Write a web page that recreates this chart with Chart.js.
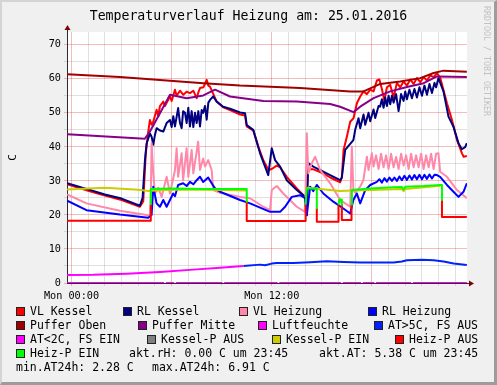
<!DOCTYPE html>
<html>
<head>
<meta charset="utf-8">
<title>Temperaturverlauf Heizung</title>
<script src="https://cdn.jsdelivr.net/npm/chart.js@4.4.1/dist/chart.umd.min.js"></script>
<style>
  html, body { margin: 0; padding: 0; background: #f0f0f0; }
  #wrap { position: relative; width: 497px; height: 385px; overflow: hidden;
          font-family: 'DejaVu Sans Mono', monospace; color: #000; }
  #chart { position: absolute; left: 0; top: 0; }
  #frame { position: absolute; left: 0; top: 0; width: 497px; height: 385px; box-sizing: border-box;
           border-top: 2px solid #d4d4d4; border-left: 2px solid #d4d4d4;
           border-right: 3px solid #9c9c9c; border-bottom: 3px solid #9c9c9c; pointer-events: none; }
  .title { position: absolute; left: 0; top: 8px; width: 497px; text-align: center;
           font-size: 13.2px; line-height: 16px; white-space: pre; }
  .mark { position: absolute; left: 482px; top: 6px; writing-mode: vertical-rl;
          font-size: 8.3px; line-height: 10px; color: #c2c2c2; white-space: pre; }
  .item { position: absolute; font-size: 11.5px; line-height: 14px; white-space: pre; }
  .sw { position: absolute; width: 9px; height: 9px; box-sizing: border-box; border: 1px solid #222; }
</style>
</head>
<body>
<div id="wrap">
  <canvas id="chart" width="497" height="385"></canvas>
  <div class="title">Temperaturverlauf Heizung am: 25.01.2016</div>
  <div class="mark">RRDTOOL / TOBI OETIKER</div>

  <div class="sw" style="left:16px;top:307px;background:#ff0000"></div><div class="item" style="left:30px;top:304px">VL Kessel</div>
  <div class="sw" style="left:123px;top:307px;background:#000080"></div><div class="item" style="left:137px;top:304px">RL Kessel</div>
  <div class="sw" style="left:239px;top:307px;background:#ff88aa"></div><div class="item" style="left:253px;top:304px">VL Heizung</div>
  <div class="sw" style="left:368px;top:307px;background:#0000ff"></div><div class="item" style="left:382px;top:304px">RL Heizung</div>

  <div class="sw" style="left:16px;top:321px;background:#a00000"></div><div class="item" style="left:30px;top:318px">Puffer Oben</div>
  <div class="sw" style="left:138px;top:321px;background:#880088"></div><div class="item" style="left:152px;top:318px">Puffer Mitte</div>
  <div class="sw" style="left:258px;top:321px;background:#ff00ff"></div><div class="item" style="left:272px;top:318px">Luftfeuchte</div>
  <div class="sw" style="left:374px;top:321px;background:#0022ff"></div><div class="item" style="left:388px;top:318px">AT&gt;5C, FS AUS</div>

  <div class="sw" style="left:16px;top:335px;background:#ff00ff"></div><div class="item" style="left:30px;top:332px">AT&lt;2C, FS EIN</div>
  <div class="sw" style="left:147px;top:335px;background:#808080"></div><div class="item" style="left:161px;top:332px">Kessel-P AUS</div>
  <div class="sw" style="left:272px;top:335px;background:#cccc00"></div><div class="item" style="left:286px;top:332px">Kessel-P EIN</div>
  <div class="sw" style="left:395px;top:335px;background:#ff0000"></div><div class="item" style="left:409px;top:332px">Heiz-P AUS</div>

  <div class="sw" style="left:16px;top:349px;background:#00ff00"></div><div class="item" style="left:30px;top:346px">Heiz-P EIN</div>
  <div class="item" style="left:129px;top:346px">akt.rH: 0.00 C um 23:45</div>
  <div class="item" style="left:319px;top:346px">akt.AT: 5.38 C um 23:45</div>

  <div class="item" style="left:16px;top:360px">min.AT24h: 2.28 C</div>
  <div class="item" style="left:152px;top:360px">max.AT24h: 6.91 C</div>

  <div id="frame"></div>
</div>
<script>
// values, as [hour of day, value]
const vlKessel = [[-0.26,29.0],[1,27.1],[2,25.7],[3,24.4],[4.1,22.4],[4.3,24],[4.45,38],[4.6,44.5],[4.7,47.9],[4.8,46.5],[4.9,47.4],[5.1,50.9],[5.2,49],[5.3,52],[5.5,53.3],[5.6,52],[5.9,54.8],[6.0,53.5],[6.2,56.8],[6.3,55],[6.5,56.5],[6.7,55.3],[6.9,56.2],[7.1,55.8],[7.3,56.5],[7.5,54.3],[7.6,56],[7.7,57.3],[7.9,57.5],[8.1,59.7],[8.2,58],[8.3,57.7],[8.5,55.5],[8.7,53.3],[9.1,51.6],[9.5,50.8],[10.1,49.5],[10.4,49.2],[10.5,46],[10.9,44.8],[11.2,40],[11.5,36],[11.8,33.2],[12.0,33.5],[12.3,34.5],[12.5,34],[12.9,31.2],[13.5,27.8],[13.9,25.8],[14.05,24.8],[14.15,33.5],[14.5,33.4],[15.0,32.4],[15.5,31.0],[16.1,29.6],[16.2,31],[16.3,39],[16.5,43],[16.7,47.4],[16.9,48.4],[17.1,52.8],[17.3,54.8],[17.5,56.3],[17.7,55.5],[17.9,56.8],[18.1,56.3],[18.3,59.5],[18.45,59.8],[18.6,57],[18.75,53.5],[18.9,57.5],[19.1,58.2],[19.3,54.5],[19.5,58.8],[19.7,57.5],[19.9,59.2],[20.1,58],[20.3,59.8],[20.5,58.5],[20.7,60.2],[20.9,59],[21.1,60.5],[21.3,59.5],[21.5,61],[21.7,60.5],[21.9,61.7],[22.1,60.2],[22.5,52.8],[22.8,47.9],[23.1,42],[23.4,38.1],[23.5,37.1],[23.69,37.3]];

const rlKessel = [[-0.26,29.3],[1,27.5],[2,26.0],[3,24.8],[4.1,22.7],[4.26,25],[4.4,36],[4.5,41],[4.6,42.5],[4.7,43.9],[4.8,43],[4.9,40.6],[5.0,43.5],[5.1,45.5],[5.3,44.8],[5.5,44.5],[5.7,47],[5.9,47.9],[6.0,45.8],[6.1,49],[6.2,46],[6.39,51.4],[6.5,47],[6.6,45.5],[6.69,50.5],[6.8,50],[6.9,47],[7.0,51.5],[7.1,46],[7.2,50.5],[7.3,45.8],[7.4,50],[7.5,47],[7.6,50.5],[7.7,46],[7.8,50.8],[7.89,50],[8.0,52],[8.1,48],[8.2,53],[8.3,53.8],[8.49,54.8],[8.7,53.3],[9.09,51.8],[9.5,51.2],[10.1,50.1],[10.4,49.9],[10.5,46.4],[10.89,45.0],[11.3,38.1],[11.79,31.7],[12.0,39.6],[12.2,36.1],[12.5,34.2],[12.9,30.2],[13.5,27.3],[14.0,25.3],[14.1,19.9],[14.19,35.2],[14.49,34.2],[15.5,31.7],[16.1,30.2],[16.2,31],[16.4,39.1],[16.89,42.0],[17.0,45],[17.2,48.4],[17.3,45.5],[17.5,49.5],[17.6,46.5],[17.8,50],[17.9,47.5],[18.1,51],[18.2,48.5],[18.4,52],[18.49,51.8],[18.6,54],[18.7,51.5],[18.8,54.5],[18.9,52],[19.0,55],[19.1,52.5],[19.2,55],[19.3,53],[19.45,55.5],[19.6,50.5],[19.75,55.5],[19.9,53.5],[20.0,56.3],[20.1,54],[20.25,56.8],[20.4,54.3],[20.55,57],[20.7,54.5],[20.85,57.5],[21.0,55],[21.15,58],[21.3,55.3],[21.45,58.5],[21.6,55.8],[21.75,58.8],[21.85,57.5],[21.99,60.2],[22.29,56.3],[22.59,48.9],[22.89,45.9],[23.19,41.1],[23.39,39.3],[23.59,39.9],[23.69,41.1]];

const vlHeizung = [[-0.26,26.0],[0.9,23.4],[2.9,21.2],[4.5,20.0],[4.7,19.8],[4.75,25],[4.8,41.1],[4.9,32.2],[5.0,26.3],[5.2,28],[5.4,25.3],[5.7,31.2],[5.9,26.3],[6.2,33.2],[6.3,39.6],[6.39,31.2],[6.6,38.1],[6.69,30.2],[6.9,39.6],[7.0,31.2],[7.2,39.1],[7.3,32.2],[7.59,41.5],[7.7,33.2],[7.89,36.6],[8.0,34.2],[8.19,36.1],[8.4,33.2],[8.49,27.3],[8.9,26.5],[10.1,25.3],[10.7,24.9],[11.49,22.4],[11.9,21.4],[12.0,27.3],[12.3,28.5],[12.69,26.3],[13.5,22.4],[14.0,20.9],[14.1,44.0],[14.19,32.2],[14.4,35.2],[14.6,37.1],[14.9,33.2],[15.5,29.3],[16.1,24.4],[16.4,23.4],[16.7,22.4],[16.8,40.1],[16.89,27.3],[17.0,26.5],[17.3,28.3],[17.49,30.2],[17.7,37.1],[17.8,33.2],[18.0,38.1],[18.1,34.2],[18.25,37.5],[18.4,33.5],[18.55,38],[18.7,34],[18.85,37.5],[19.0,33.5],[19.15,38],[19.3,34],[19.45,37],[19.6,33.5],[19.75,38],[19.9,34.5],[20.05,37.5],[20.2,33.5],[20.35,38],[20.5,34],[20.65,37.5],[20.8,34],[20.95,38],[21.1,33.5],[21.25,37.5],[21.4,34],[21.55,38],[21.7,33.5],[21.85,38],[21.99,38.1],[22.09,32.7],[22.5,31.2],[23.1,27.3],[23.69,24.9]];

const rlHeizung = [[-0.26,24.2],[0.9,21.4],[2.9,20.1],[4.6,19.2],[4.8,20],[4.9,28.3],[5.1,23.4],[5.3,22.4],[5.5,24.4],[5.7,22.4],[5.9,24.4],[6.09,26.3],[6.2,25.5],[6.39,28.8],[6.69,29.3],[6.9,28.5],[7.1,29.7],[7.3,29],[7.5,30.2],[7.7,31.2],[7.89,29.7],[8.19,31],[8.4,29.3],[8.6,27.8],[8.9,26.8],[10.1,24.4],[10.7,23.4],[11.9,20.9],[12.5,20.9],[12.8,22.4],[13.2,25.3],[13.7,25.8],[14.0,24.9],[14.1,19.9],[14.3,28.3],[14.49,27],[14.7,28.8],[15.09,26.3],[15.69,23.9],[16.29,21.9],[16.7,20.4],[16.89,24.4],[17.1,26.3],[17.3,23.4],[17.6,27.3],[17.9,28.8],[18.3,29.7],[18.45,30.5],[18.6,29.5],[18.75,30.8],[18.9,29.8],[19.05,31],[19.2,30],[19.35,31],[19.5,30],[19.65,31.3],[19.8,30.2],[19.95,31.5],[20.1,30.3],[20.25,31.6],[20.4,30.4],[20.55,31.7],[20.7,30.5],[20.85,31.8],[21.0,30.5],[21.15,31.8],[21.3,30.6],[21.45,31.9],[21.6,30.7],[21.75,31.8],[21.9,31.7],[22.09,31.2],[22.5,28.8],[22.89,26.8],[23.19,25.3],[23.49,26.8],[23.69,29.3]];

const pufferOben = [[-0.26,61.3],[2.9,60.5],[7.9,58.7],[10.1,58.0],[13.7,57.3],[16.7,56.3],[17.5,56.3],[18.5,58.5],[19.7,59.2],[20.9,60.2],[21.7,61.7],[22.3,62.4],[23.69,62.1]];

const pufferMitte = [[-0.26,43.7],[4.4,42.4],[4.7,44.5],[5.3,49.9],[5.9,55.3],[6.9,54.3],[7.9,55.1],[8.6,56.8],[9.5,54.8],[11.5,53.5],[13.5,53.3],[15.5,52.6],[16.1,51.8],[16.9,50.2],[17.3,51.8],[18.1,54.3],[19.1,56.3],[20.1,57.6],[21.1,58.7],[21.9,60.7],[23.69,60.5]];

const luftfeuchte = [[-0.26,0],[5.55,0],[5.6,null],[5.65,0],[6.15,0],[6.2,null],[6.25,0],[9.05,0],[9.1,null],[9.15,0],[12.35,0],[12.4,null],[12.45,0],[16.15,0],[16.2,null],[16.25,0],[17.35,0],[17.4,null],[17.45,0],[18.15,0],[18.2,null],[18.25,0],[20.35,0],[20.4,null],[20.45,0],[23.69,0]];

const atFsAus = [[10.3,5.0],[11.3,5.4],[11.6,5.2],[12.0,5.7],[12.3,5.9],[13.3,5.9],[14.3,6.1],[15.3,6.4],[16.3,6.2],[17.3,6.0],[18.3,6.0],[19.3,6.0],[19.8,6.3],[20.1,6.7],[21.0,6.8],[21.7,6.7],[22.3,6.3],[22.9,5.7],[23.69,5.3]];

const atFsEin = [[-0.26,2.36],[1.3,2.4],[3.3,2.75],[5.3,3.25],[7.3,3.93],[8.9,4.5],[10.3,5.0]];

const kesselPEin = [[-0.26,27.5],[2,28.0],[4.0,27.4],[4.6,27.0],[5.5,27.3],[7,27.5],[9,27.3],[10.5,27.2],[10.55,null],[14.1,28.0],[14.6,27.8],[15.5,27.3],[16.1,27.0],[16.8,27.2],[18,27.3],[19.8,27.6],[19.9,27.0],[20.0,27.6],[22.1,28.6]];

const heizPAus = [[-0.26,18.3],[4.75,18.3],[4.75,23],[4.8,null],[10.5,23.9],[10.5,18.2],[14.03,18.2],[14.03,23],[14.1,null],[14.7,22],[14.7,18.0],[16.0,18.0],[16.0,23],[16.1,null],[16.2,23],[16.2,18.5],[16.78,18.5],[16.78,23],[16.9,null],[22.2,24.4],[22.2,19.4],[23.69,19.4]];

const heizPEin = [[4.75,23],[4.75,27.6],[6,27.8],[8,27.6],[10.5,27.6],[10.5,23.9],[10.6,null],[14.03,23],[14.1,27.8],[14.7,27.8],[14.7,22],[14.8,null],[16.0,23],[16.05,24.5],[16.15,24.5],[16.2,23],[16.3,null],[16.78,23],[16.8,27.3],[17.9,27.8],[19.3,28.1],[19.8,28.2],[19.9,27.5],[20.0,28.3],[21.1,28.5],[22.09,28.8],[22.2,28.8],[22.2,24.4]];

const hourTicks = { 0: 'Mon 00:00', 12: 'Mon 12:00' };

// legend order = draw order (later ones on top)
const series = [
  ['VL Kessel', vlKessel, '#ff0000'],
  ['RL Kessel', rlKessel, '#000080'],
  ['VL Heizung', vlHeizung, '#ff88aa'],
  ['RL Heizung', rlHeizung, '#0000ff'],
  ['Puffer Oben', pufferOben, '#a00000'],
  ['Puffer Mitte', pufferMitte, '#880088'],
  ['Luftfeuchte', luftfeuchte, '#ff00ff'],
  ['AT>5C, FS AUS', atFsAus, '#0022ff'],
  ['AT<2C, FS EIN', atFsEin, '#ff00ff'],
  ['Kessel-P EIN', kesselPEin, '#cccc00'],
  ['Heiz-P AUS', heizPAus, '#ff0000'],
  ['Heiz-P EIN', heizPEin, '#00ff00'],
];

const MONO = 'DejaVu Sans Mono';
const MAJOR = 'rgba(222,48,48,0.32)';
const MINOR = 'rgba(143,143,143,0.28)';

const plotArea = {
  id: 'plotArea',
  beforeDraw(chart) {
    const { ctx, chartArea: a } = chart;
    ctx.save();
    ctx.fillStyle = '#ffffff';
    ctx.fillRect(a.left, a.top, a.right - a.left, a.bottom - a.top);
    ctx.restore();
  },
  afterDraw(chart) {
    const { ctx, chartArea: a } = chart;
    const x0 = Math.round(a.left) + 0.5;
    const y0 = Math.round(a.bottom) + 0.5;
    ctx.save();
    ctx.strokeStyle = '#2c2c2c';
    ctx.lineWidth = 1;
    ctx.beginPath();
    ctx.moveTo(x0, a.top);
    ctx.lineTo(x0, a.top - 3);
    ctx.moveTo(a.right, y0);
    ctx.lineTo(a.right + 3, y0);
    ctx.stroke();
    ctx.fillStyle = '#800000';
    ctx.beginPath();
    ctx.moveTo(x0, a.top - 7);
    ctx.lineTo(x0 - 3, a.top - 2);
    ctx.lineTo(x0 + 3, a.top - 2);
    ctx.closePath();
    ctx.fill();
    ctx.beginPath();
    ctx.moveTo(a.right + 7, y0);
    ctx.lineTo(a.right + 2, y0 - 3);
    ctx.lineTo(a.right + 2, y0 + 3);
    ctx.closePath();
    ctx.fill();
    ctx.restore();
  }
};

new Chart(document.getElementById('chart').getContext('2d'), {
  type: 'line',
  data: {
    datasets: series.map(([label, pts, color], i) => ({
      label,
      data: pts.map(([x, y]) => ({ x, y })),
      borderColor: color,
      backgroundColor: color,
      borderWidth: 2,
      borderJoinStyle: 'round',
      pointRadius: 0,
      tension: 0,
      fill: false,
      order: -i,
    })),
  },
  options: {
    responsive: false,
    animation: false,
    devicePixelRatio: 1,
    events: [],
    layout: { padding: { top: 32, right: 30, bottom: 86, left: 0 } },
    plugins: { legend: { display: false }, tooltip: { enabled: false }, title: { display: false } },
    scales: {
      x: {
        type: 'linear',
        min: -0.27,
        max: 23.7,
        afterFit: (s) => { s.height = 16; },
        grid: {
          color: (c) => (c.tick && c.tick.value % 6 === 0 ? MAJOR : MINOR),
          tickLength: 3,
        },
        border: { display: true, color: '#2c2c2c' },
        ticks: {
          stepSize: 1,
          includeBounds: false,
          autoSkip: false,
          maxRotation: 0,
          padding: 4,
          color: '#000',
          font: { family: MONO, size: 10.2 },
          callback: (v) => hourTicks[v] || '',
        },
      },
      y: {
        min: 0,
        max: 73.75,
        afterFit: (s) => { s.width = 67; },
        grid: {
          color: (c) => (c.tick && c.tick.value % 10 === 0 ? MAJOR : MINOR),
          tickLength: 3,
        },
        border: { display: true, color: '#2c2c2c' },
        title: {
          display: true,
          text: 'C',
          color: '#000',
          font: { family: MONO, size: 11 },
          padding: { top: 7, bottom: 0 },
        },
        ticks: {
          stepSize: 5,
          includeBounds: false,
          padding: 3,
          color: '#000',
          font: { family: MONO, size: 10.2 },
          callback: (v) => (v % 10 === 0 ? String(v) : ''),
        },
      },
    },
  },
  plugins: [plotArea],
});
</script>
</body>
</html>
